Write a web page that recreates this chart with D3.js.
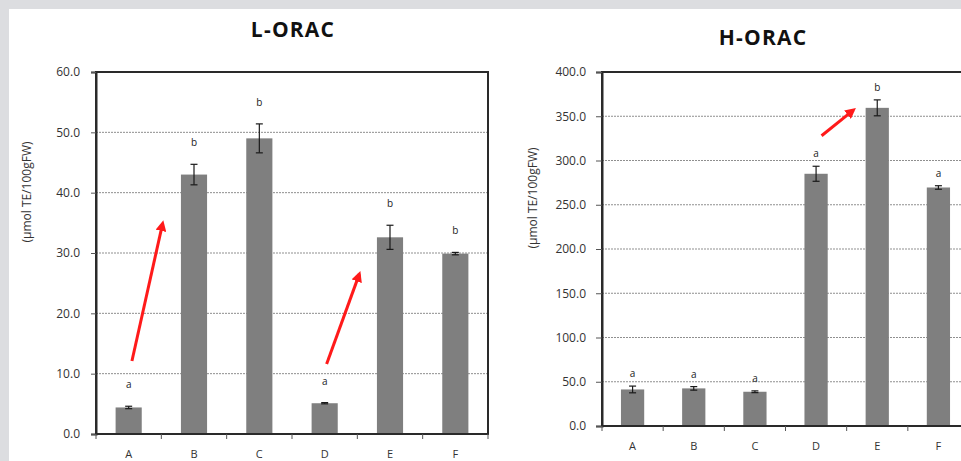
<!DOCTYPE html>
<html>
<head>
<meta charset="utf-8">
<script src="https://cdn.jsdelivr.net/npm/d3@7/dist/d3.min.js"></script>
<style>
  html, body { margin: 0; padding: 0; background: #dcdde0; }
  svg { display: block; }
</style>
</head>
<body>
<svg id="chart" width="961" height="461"></svg>
<script>
// Samples
const categories = ["A", "B", "C", "D", "E", "F"];

// Lipophilic ORAC (µmol TE/100gFW)
const lValues = [4.4, 43.0, 49.0, 5.1, 32.6, 29.9];
const lErrors = [0.2, 1.7, 2.4, 0.1, 2.0, 0.2];
const lLetters = ["a", "b", "b", "a", "b", "b"];
const lTicks = [0, 10, 20, 30, 40, 50, 60];

// Hydrophilic ORAC (µmol TE/100gFW)
const hValues = [41.3, 42.5, 38.7, 285.0, 359.5, 269.5];
const hErrors = [3.8, 2.0, 1.0, 8.5, 9.0, 2.0];
const hLetters = ["a", "a", "a", "a", "b", "a"];
const hTicks = [0, 50, 100, 150, 200, 250, 300, 350, 400];

// Arrows: [category, offset in bands, value] -> [category, offset, value]
const lArrows = [
  [["A", 0.05, 12.1], ["A", 0.52, 34.9]],
  [["D", 0.03, 11.6], ["D", 0.53, 26.5]]
];
const hArrows = [
  [["D", 0.09, 328], ["D", 0.61, 357]]
];

const yLabel = "(µmol TE/100gFW)";
const FONT = "'Open Sans', 'DejaVu Sans', sans-serif";

const svg = d3.select("#chart");

// white page area
svg.append("rect").attr("x", 9).attr("y", 9).attr("width", 952).attr("height", 452).attr("fill", "#fff");

const defs = svg.append("defs");
defs.append("marker")
  .attr("id", "arrowhead")
  .attr("viewBox", "0 0 10 10")
  .attr("refX", 7).attr("refY", 5)
  .attr("markerWidth", 3.6).attr("markerHeight", 3.6)
  .attr("orient", "auto")
  .append("path").attr("d", "M0,0 L10,5 L0,10 Z").attr("fill", "#ff1a1a");

function drawPanel(o) {
  const g = svg.append("g");
  const x = d3.scaleBand().domain(categories).range([o.left, o.right]).padding(0);
  const y = d3.scaleLinear().domain([0, o.max]).range([o.bottom, o.top]);
  const bw = x.bandwidth() * o.barFrac;
  const cx = c => x(c) + x.bandwidth() / 2;

  // title
  g.append("text").attr("x", o.titleX).attr("y", o.titleY)
    .attr("text-anchor", "middle")
    .attr("font-family", FONT).attr("font-weight", 700).attr("font-size", 21)
    .attr("letter-spacing", 1.2)
    .attr("fill", "#111").text(o.title);

  // gridlines
  g.append("g").selectAll("line").data(o.ticks.slice(1, -1)).join("line")
    .attr("x1", o.left).attr("x2", o.right)
    .attr("y1", d => y(d)).attr("y2", d => y(d))
    .attr("stroke", "#8f8f8f").attr("stroke-width", 1)
    .attr("stroke-dasharray", "2,1");

  // bars
  g.append("g").selectAll("rect").data(o.values).join("rect")
    .attr("x", (d, i) => cx(categories[i]) - bw / 2)
    .attr("y", d => y(d))
    .attr("width", bw)
    .attr("height", d => y(0) - y(d))
    .attr("fill", "#7f7f7f");

  // error bars
  const eg = g.append("g").attr("stroke", "#1a1a1a").attr("stroke-width", 1.2);
  o.values.forEach((v, i) => {
    const c = cx(categories[i]), e = o.errors[i];
    eg.append("line").attr("x1", c).attr("x2", c).attr("y1", y(v - e)).attr("y2", y(v + e));
    eg.append("line").attr("x1", c - 3.5).attr("x2", c + 3.5).attr("y1", y(v + e)).attr("y2", y(v + e));
    eg.append("line").attr("x1", c - 3.5).attr("x2", c + 3.5).attr("y1", y(v - e)).attr("y2", y(v - e));
  });

  // significance letters
  g.append("g").selectAll("text").data(o.letters).join("text")
    .attr("x", (d, i) => cx(categories[i]))
    .attr("y", (d, i) => y(o.values[i] + o.errors[i]) - o.letterGap)
    .attr("text-anchor", "middle")
    .attr("font-family", FONT).attr("font-size", 10)
    .style("fill", "#222")
    .text(d => d);

  // plot frame
  g.append("rect").attr("x", o.left).attr("y", o.top)
    .attr("width", o.right - o.left).attr("height", o.bottom - o.top)
    .attr("fill", "none").attr("stroke", "#2a2a2a").attr("stroke-width", 2);

  // y axis
  const ya = g.append("g").attr("transform", `translate(${o.left},0)`)
    .call(d3.axisLeft(y).tickValues(o.ticks).tickFormat(d3.format(".1f"))
      .tickSize(o.tickLen).tickPadding(o.tickPad));
  ya.select(".domain").attr("stroke", "#2a2a2a").attr("stroke-width", 2);
  ya.selectAll(".tick line").attr("stroke", "#555");
  ya.selectAll("text").attr("font-family", FONT).attr("font-size", 12).attr("fill", "#333");

  // x axis labels and boundary ticks
  const xa = g.append("g").attr("transform", `translate(0,${o.bottom})`)
    .call(d3.axisBottom(x).tickSize(0).tickPadding(o.xPad));
  xa.select(".domain").remove();
  xa.selectAll("text").attr("font-family", FONT).attr("font-size", 11).attr("fill", "#333");
  g.append("g").selectAll("line").data(categories.map(c => x(c)).concat([x.range()[1]])).join("line")
    .attr("x1", d => d).attr("x2", d => d)
    .attr("y1", o.bottom).attr("y2", o.bottom + 5)
    .attr("stroke", "#555");

  // y axis title
  g.append("text")
    .attr("transform", `translate(${o.labelX},${o.labelY}) rotate(-90)`)
    .attr("text-anchor", "middle").attr("dominant-baseline", "central")
    .attr("font-family", FONT).attr("font-size", 12).attr("fill", "#333")
    .text(yLabel);

  // red arrows
  o.arrows.forEach(([a, b]) => {
    g.append("line")
      .attr("x1", cx(a[0]) + a[1] * x.step()).attr("y1", y(a[2]))
      .attr("x2", cx(b[0]) + b[1] * x.step()).attr("y2", y(b[2]))
      .attr("stroke", "#ff1a1a").attr("stroke-width", 3)
      .attr("marker-end", "url(#arrowhead)");
  });
}

drawPanel({
  title: "L-ORAC", titleX: 293, titleY: 37,
  left: 96, right: 488, top: 72, bottom: 434, max: 60,
  values: lValues, errors: lErrors, letters: lLetters, ticks: lTicks, arrows: lArrows,
  barFrac: 0.40, letterGap: 18, tickLen: 5, tickPad: 11, xPad: 16,
  labelX: 26, labelY: 192
});

drawPanel({
  title: "H-ORAC", titleX: 763, titleY: 45,
  left: 602, right: 969, top: 72, bottom: 426, max: 400,
  values: hValues, errors: hErrors, letters: hLetters, ticks: hTicks, arrows: hArrows,
  barFrac: 0.38, letterGap: 9, tickLen: 6, tickPad: 10, xPad: 16,
  labelX: 532, labelY: 198
});
</script>
</body>
</html>
